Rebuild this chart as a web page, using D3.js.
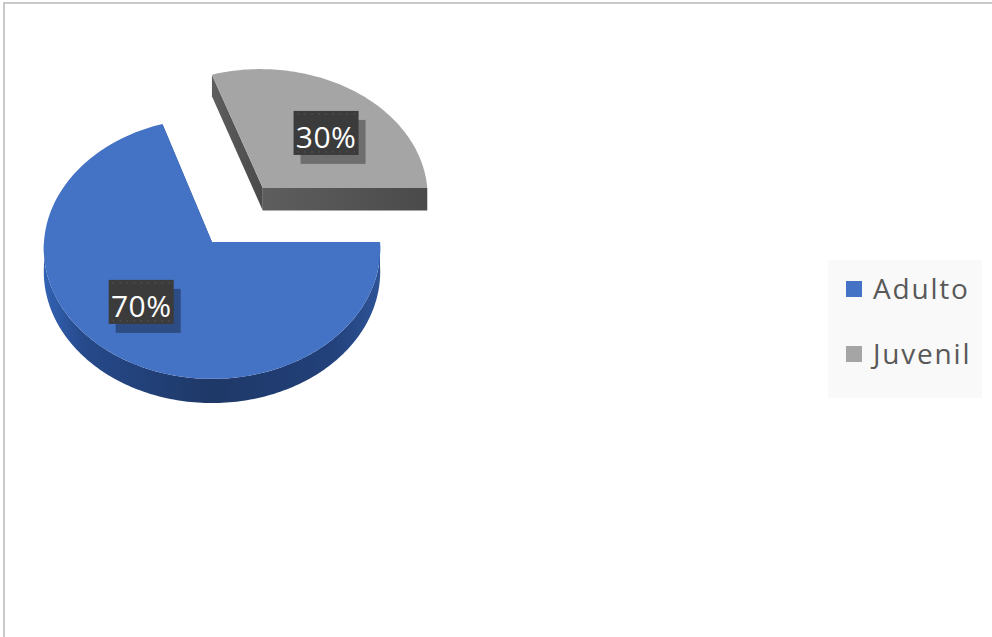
<!DOCTYPE html>
<html lang="es">
<head>
<meta charset="utf-8">
<title>Adulto / Juvenil</title>
<script src="https://d3js.org/d3.v7.min.js"></script>
<style>
  body { margin: 0; background: #fff; }
  svg { display: block; font-family: "Open Sans", "Noto Sans", sans-serif; }
</style>
</head>
<body>
<svg width="992" height="637"></svg>
<script>
// data
const categories = ['Adulto', 'Juvenil'];
const values = [70, 30];

// colours (top face, cut face)
const topColors = ['#4472C4', '#A5A5A5'];
const cutColors = ['#2a4f8f', '#535353'];

const svg = d3.select('svg');
const w = 992, h = 637;

const color = d3.scaleOrdinal(categories, topColors);
const cutColor = d3.scaleOrdinal(categories, cutColors);

// chart frame (only top and left edges are inside the picture)
svg.append('rect')
  .attr('x', 4).attr('y', 3)
  .attr('width', w + 20).attr('height', h + 20)
  .attr('fill', 'none')
  .attr('stroke', '#c9c9c9')
  .attr('stroke-width', 2);

// 3d pie layout
const cx = 212, cy = 242;   // centre of the pie top
const rx = 168, ry = 130;   // half axes of the tilted disc
const persp = 0.05;         // small perspective, near side looks bigger
const depth = 23;
const explodeBy = { 'Adulto': 0, 'Juvenil': 0.525 };
const labelR = 0.62;
const labelNudge = { 'Adulto': [-8, -7], 'Juvenil': [6, 6] };

// disc coords -> screen, angle a clockwise from 12 o'clock
function proj(a, r, off, z) {
  const u = off[0] + r * Math.sin(a);
  const v = off[1] + r * Math.cos(a);
  const f = 1 / (1 + persp * v);
  return [cx + rx * u * f, cy - ry * v * f + z * f];
}

function rim(s, e, off, z) {
  const n = Math.max(2, Math.ceil((e - s) / 0.02));
  return d3.range(n + 1).map(k => proj(s + (e - s) * k / n, 1, off, z));
}

const line = d3.line().curve(d3.curveLinear);

const pie = d3.pie()
  .sort(null)
  .startAngle(Math.PI / 2)
  .endAngle(Math.PI / 2 + 2 * Math.PI);

const arcs = pie(values).map((d, i) => {
  const key = categories[i];
  const mid = (d.startAngle + d.endAngle) / 2;
  const e = explodeBy[key];
  return Object.assign(d, { key, mid, off: [e * Math.sin(mid), e * Math.cos(mid)] });
});

// gradient for the front rim of the blue slice
const defs = svg.append('defs');
const grad = defs.append('linearGradient')
  .attr('id', 'sideBlue')
  .attr('gradientUnits', 'userSpaceOnUse')
  .attr('x1', cx - rx).attr('x2', cx + rx)
  .attr('y1', 0).attr('y2', 0);
grad.selectAll('stop')
  .data([[0, '#3262b3'], [0.12, '#26498a'], [0.5, '#1e3867'], [0.85, '#22407a'], [1, '#2d5396']])
  .enter().append('stop')
  .attr('offset', d => d[0])
  .attr('stop-color', d => d[1]);

const grad2 = defs.append('linearGradient')
  .attr('id', 'sideGray')
  .attr('x1', 0).attr('x2', 1).attr('y1', 0).attr('y2', 0);
grad2.append('stop').attr('offset', 0).attr('stop-color', '#5e5e5e');
grad2.append('stop').attr('offset', 1).attr('stop-color', '#4a4a4a');

// draw back slices first (the exploded gray sits behind)
const order = arcs.slice().sort((a, b) => b.off[1] - a.off[1]);
const pieG = svg.append('g');

order.forEach(d => {
  const g = pieG.append('g');
  const s = d.startAngle, e = d.endAngle, off = d.off;

  // radial cut faces
  [s, e].forEach(a => {
    const pts = [proj(0, 0, off, 0), proj(a, 1, off, 0), proj(a, 1, off, depth), proj(0, 0, off, depth)];
    g.append('path')
      .attr('d', line(pts) + 'Z')
      .attr('fill', d.key === 'Juvenil' ? 'url(#sideGray)' : cutColor(d.key));
  });

  // outer rim, only the part facing the viewer
  for (let k = -1; k <= 1; k++) {
    const lo = Math.max(s, Math.PI / 2 + 2 * Math.PI * k);
    const hi = Math.min(e, 3 * Math.PI / 2 + 2 * Math.PI * k);
    if (hi > lo) {
      const pts = rim(lo, hi, off, 0).concat(rim(lo, hi, off, depth).reverse());
      g.append('path')
        .attr('d', line(pts) + 'Z')
        .attr('fill', d.key === 'Adulto' ? 'url(#sideBlue)' : '#575757');
    }
  }

  // top face
  const top = [proj(0, 0, off, 0)].concat(rim(s, e, off, 0));
  g.append('path')
    .attr('d', line(top) + 'Z')
    .attr('fill', color(d.key));
});

// data labels
const total = d3.sum(values);
const fmt = d3.format('.0%');
const boxW = 65, boxH = 44;

arcs.forEach(d => {
  const [x, y] = proj(d.mid, labelR, d.off, 0);
  const nd = labelNudge[d.key];
  const g = svg.append('g').attr('transform', `translate(${x + nd[0]},${y + nd[1]})`);
  g.append('rect')
    .attr('x', -boxW / 2 + 7).attr('y', -boxH / 2 + 9)
    .attr('width', boxW).attr('height', boxH)
    .attr('fill', '#000').attr('fill-opacity', 0.33);
  g.append('rect')
    .attr('x', -boxW / 2).attr('y', -boxH / 2)
    .attr('width', boxW).attr('height', boxH)
    .attr('fill', '#3b3b3b');
  [-boxH / 2 + 3, boxH / 2 - 3].forEach(yy => {
    g.append('line')
      .attr('x1', -boxW / 2 + 4).attr('x2', boxW / 2 - 4)
      .attr('y1', yy).attr('y2', yy)
      .attr('stroke', '#6a6a6a')
      .attr('stroke-dasharray', '1,6');
  });
  g.append('text')
    .attr('text-anchor', 'middle')
    .attr('y', 15)
    .attr('fill', '#ffffff')
    .attr('font-size', 30)
    .attr('letter-spacing', 0.5)
    .text(fmt(d.value / total));
});

// legend
const legY = d3.scalePoint().domain(categories).range([289, 354]);
const legend = svg.append('g');
legend.append('rect')
  .attr('x', 828).attr('y', 260)
  .attr('width', 154).attr('height', 138)
  .attr('fill', '#f9f9f9');

const items = legend.selectAll('g.item')
  .data(categories)
  .enter().append('g')
  .attr('class', 'item')
  .attr('transform', d => `translate(846,${legY(d)})`);

items.append('rect')
  .attr('x', 0).attr('y', -8)
  .attr('width', 16).attr('height', 16)
  .attr('fill', d => color(d));

items.append('text')
  .attr('x', 27).attr('y', 10)
  .attr('fill', '#595959')
  .attr('font-size', 28)
  .attr('letter-spacing', 1.8)
  .text(d => d);
</script>
</body>
</html>
